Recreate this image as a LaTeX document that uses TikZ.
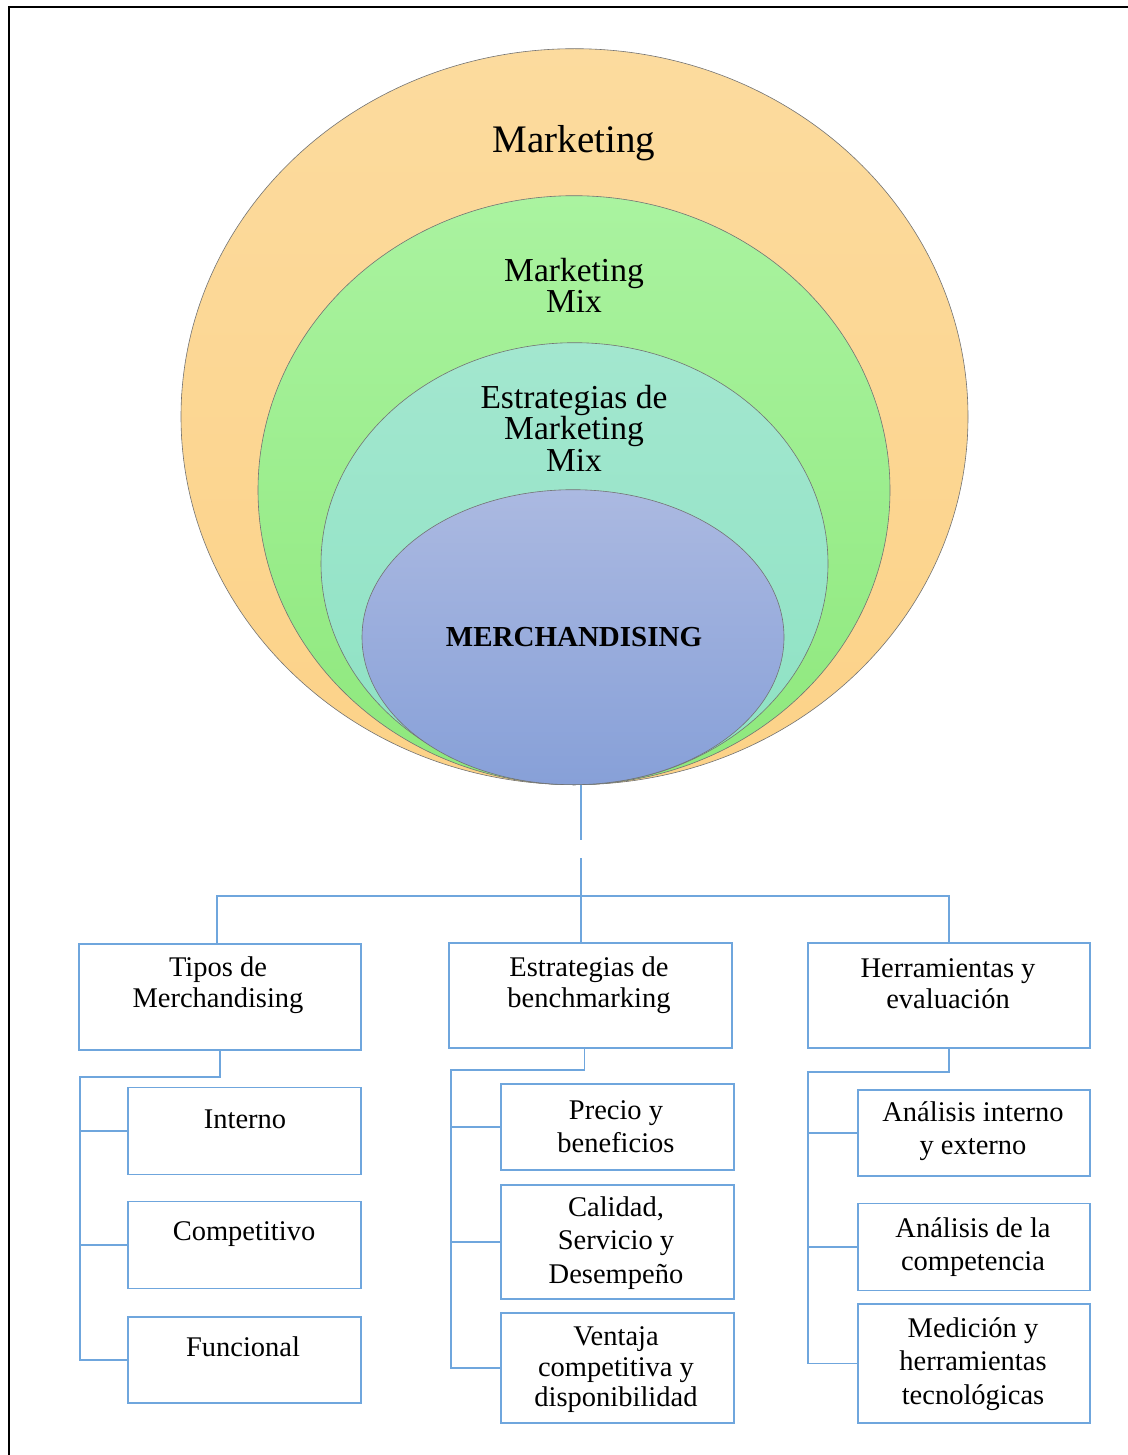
\documentclass[tikz,border=0pt]{standalone}
\usepackage{fontspec}
\setmainfont{Liberation Serif}
\usetikzlibrary{shapes.geometric,positioning}

\definecolor{orangetop}{HTML}{FCDB9E}
\definecolor{orangebot}{HTML}{FCD288}
\definecolor{greentop}{HTML}{AAF3A0}
\definecolor{greenbot}{HTML}{8EE87C}
\definecolor{tealtop}{HTML}{A3E7CF}
\definecolor{tealbot}{HTML}{8DE2C3}
\definecolor{bluetop}{HTML}{ABB9E1}
\definecolor{bluebot}{HTML}{87A0D8}
\definecolor{boxblue}{HTML}{6FA6DD}

\begin{document}
\begin{tikzpicture}[x=1pt, y=-1pt,
  ring/.style={ellipse, draw=black!55, line width=.6pt, inner sep=0pt,
               anchor=south},
  title/.style={inner sep=0pt, align=center,
                font=\fontsize{33.5}{31.5}\selectfont},
  box/.style={draw=boxblue, line width=1.9pt, inner sep=0pt,
              minimum width=233pt},
  boxtext/.style={inner sep=0pt, align=center,
                  font=\fontsize{28.5}{33.5}\selectfont},
  link/.style={draw=boxblue, line width=1.9pt}
]
\useasboundingbox (0,0) rectangle (1127,1455);
\draw[line width=2.6pt] (9,1460) -- (9,7) -- (1130,7);

% nested ellipses
\node[ring, top color=orangetop, bottom color=orangebot,
  minimum width=787pt, minimum height=736pt] (mkt) at (574.5,785) {};
\node[ring, top color=greentop, bottom color=greenbot,
  minimum width=632pt, minimum height=589pt] (mix) at (574,785) {};
\node[ring, top color=tealtop, bottom color=tealbot,
  minimum width=507pt, minimum height=442pt] (strat) at (574.5,785) {};
\node[ring, top color=bluetop, bottom color=bluebot,
  minimum width=422pt, minimum height=295pt] (merch) at (573,785) {};

\node[title, font=\fontsize{39}{40}\selectfont] (mktlabel) at (574,143) {Marketing};
\node[title] (mixlabel) at (574,285.5) {Marketing\\Mix};
\node[title] (stratlabel) at (574,428) {Estrategias de\\Marketing\\Mix};
\node[title, font=\fontsize{29}{30}\selectfont\bfseries] (merchlabel) at (574,637)
  {MERCHANDISING};

% first level
\node[box, minimum width=282pt, minimum height=106pt] (tipos) at (220,997) {};
\node[box, minimum width=283pt, minimum height=105pt] (estrat) at (590.5,995.5) {};
\node[box, minimum width=282pt, minimum height=105pt] (herr) at (949,995.5) {};
\node[boxtext, font=\fontsize{28.5}{31}\selectfont] at (218,985)
  {Tipos de\\Merchandising};
\node[boxtext, font=\fontsize{28.5}{31}\selectfont] at (589,985)
  {Estrategias de\\benchmarking};
\node[boxtext, font=\fontsize{28.5}{31}\selectfont] at (948,984)
  {Herramientas y\\evaluación};

% second level
\node[box, minimum height=87pt] (interno) at (244.5,1131) {};
\node[box, minimum height=87pt] (competitivo) at (244.5,1245) {};
\node[box, minimum height=86pt] (funcional) at (244.5,1360) {};
\node[boxtext] at (245,1119) {Interno};
\node[boxtext] at (244,1234) {Competitivo};
\node[boxtext] at (243,1347) {Funcional};

\node[box, minimum height=86pt] (precio) at (617.5,1127) {};
\node[box, minimum height=114pt] (calidad) at (617.5,1242) {};
\node[box, minimum height=110pt] (ventaja) at (617.5,1368) {};
\node[boxtext] at (616,1126.5) {Precio y\\beneficios};
\node[boxtext] at (616,1243) {Calidad,\\Servicio y\\Desempeño};
\node[boxtext, font=\fontsize{28.5}{30.5}\selectfont] at (616,1370)
  {Ventaja\\competitiva y\\disponibilidad};

\node[box, minimum width=232pt, minimum height=86pt] (analisis) at (974,1133) {};
\node[box, minimum width=232pt, minimum height=87pt] (competencia) at (974,1247) {};
\node[box, minimum width=232pt, minimum height=119pt] (medicion) at (974,1363.5) {};
\node[boxtext] at (973,1131) {Análisis interno\\y externo};
\node[boxtext] at (973,1247) {Análisis de la\\competencia};
\node[boxtext] at (973,1364) {Medición y\\herramientas\\tecnológicas};

% connectors
\coordinate (cut) at (581,840);
\coordinate (resume) at (581,858);
\draw[link] (merch.south -| cut) -- (cut);
\draw[link] (resume) -- (resume |- estrat.north);
\draw[link] ([xshift=-3pt]tipos.north) -- ++(0,-47) -| (herr.north);

\coordinate (lspine) at ([xshift=2pt]tipos.south west);
\coordinate (mspine) at ([xshift=3pt]estrat.south west);
\coordinate (rspine) at ([xshift=1pt]herr.south west);
\draw[link] (tipos.south) -- ++(0,26) -| (lspine |- funcional.west) -- (funcional.west);
\draw[link] ([xshift=-6pt]estrat.south) -- ++(0,21) -| (mspine |- ventaja.west)
  -- (ventaja.west);
\draw[link] (herr.south) -- ++(0,23) -| (rspine |- medicion.west) -- (medicion.west);
\foreach \n in {interno,competitivo}
  \draw[link] (lspine |- \n.west) -- (\n.west);
\foreach \n in {precio,calidad}
  \draw[link] (mspine |- \n.west) -- (\n.west);
\foreach \n in {analisis,competencia}
  \draw[link] (rspine |- \n.west) -- (\n.west);
\end{tikzpicture}
\end{document}
